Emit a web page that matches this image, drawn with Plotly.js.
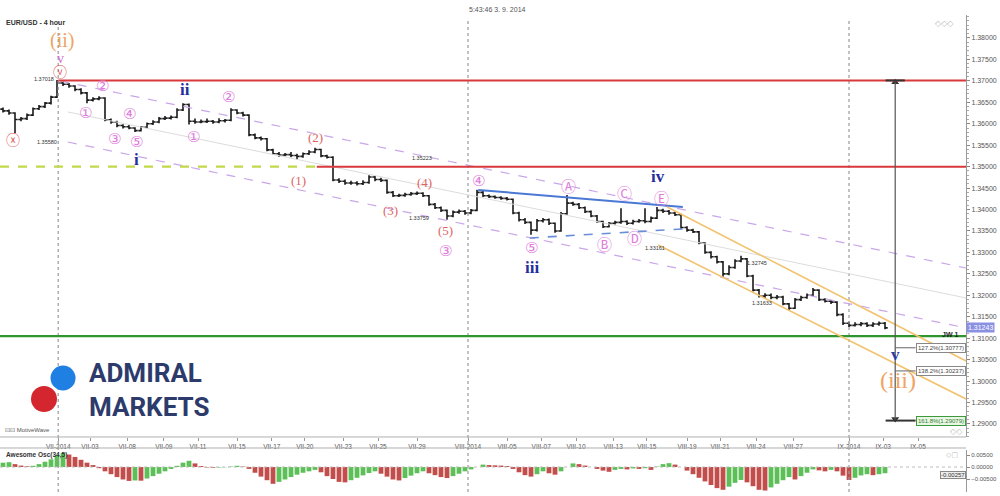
<!DOCTYPE html>
<html><head><meta charset="utf-8">
<script src="https://cdn.plot.ly/plotly-3.0.1.min.js"></script>
<style>html,body{margin:0;padding:0;background:#fff}#chart{width:1000px;height:496px}</style>
</head><body><div id="chart"></div>
<script>
// EUR/USD 4-hour bars (sampled), prices in pips above 1.3000
const openPips = [634,630,625,610,612,620,635,640,648,662,
695,692,688,680,672,655,658,660,609,604,
596,593,590,584,592,600,604,612,613,615,
632,645,606,604,605,606,604,607,608,632,
625,620,574,567,565,539,530,527,528,526,
524,530,534,540,525,522,469,466,462,462,
460,463,476,470,468,440,432,433,435,437,
438,432,412,404,398,385,394,396,392,398,
440,432,430,428,426,424,392,376,370,352,
374,376,368,350,390,415,412,404,395,385,
372,360,368,370,372,368,372,374,372,380,
398,396,392,388,358,352,348,322,300,290,
278,250,265,280,285,245,212,198,200,195,
196,180,170,190,195,200,212,190,186,184,
155,135,130,132,134,130,133,135];
const highPips = [638,633,627,616,624,638,644,651,665,702,
699,695,690,683,674,662,664,662,612,607,
599,597,592,595,603,608,616,618,619,636,
648,647,612,610,612,609,613,611,636,634,
628,622,577,570,567,542,534,532,534,530,
533,538,544,542,528,524,473,470,467,466,
468,480,478,474,470,443,437,439,441,442,
440,434,415,407,400,398,400,399,401,446,
443,435,433,431,429,426,395,380,372,378,
380,379,370,394,434,418,415,407,398,387,
374,371,374,403,375,376,378,403,384,406,
402,399,395,390,361,355,350,324,303,292,
280,270,284,292,287,248,215,205,204,201,
199,182,194,199,204,217,214,193,189,186,
158,139,137,138,137,137,139,138];
const lowPips = [626,621,578,606,609,618,632,637,645,660,
688,684,676,668,648,652,655,606,600,592,
589,587,581,582,589,597,601,609,610,613,
630,598,600,601,602,600,601,603,606,622,
617,571,564,561,536,527,523,524,522,516,
521,527,531,522,519,466,462,458,458,456,
457,460,466,464,437,429,429,430,432,434,
429,409,401,394,376,382,390,388,389,396,
429,427,425,423,421,389,372,366,341,349,
370,364,346,348,388,409,401,392,382,369,
357,358,365,367,364,365,369,368,370,378,
392,388,385,355,348,345,319,297,286,274,
243,247,262,277,242,209,195,194,191,191,
177,166,168,187,192,198,187,183,180,151,
131,126,127,128,126,126,129,121];
const closePips = [630,625,610,612,620,635,640,648,662,695,
692,688,680,672,655,658,660,609,604,596,
593,590,584,592,600,604,612,613,615,632,
645,606,604,605,606,604,607,608,632,625,
620,574,567,565,539,530,527,528,526,524,
530,534,540,525,522,469,466,462,462,460,
463,476,470,468,440,432,433,435,437,438,
432,412,404,398,385,394,396,392,398,440,
432,430,428,426,424,392,376,370,352,374,
376,368,350,390,415,412,404,395,385,372,
360,368,370,372,368,372,374,372,380,398,
396,392,388,358,352,348,322,300,290,278,
250,265,280,285,245,212,198,200,195,196,
180,170,190,195,200,212,190,186,184,155,
135,130,132,134,130,133,135,124];
// Awesome Oscillator (34,5), units of 0.0001
const aoValues = [18,20,12,6,3,5,12,22,32,48,
58,52,42,30,18,8,-5,-18,-30,-42,
-52,-58,-56,-57,-48,-38,-28,-18,-8,5,
18,26,15,4,-2,-3,-2,-1,2,5,
2,-8,-24,-40,-55,-70,-62,-52,-42,-32,
-24,-18,-12,-22,-38,-50,-62,-64,-55,-45,
-35,-25,-18,-28,-40,-52,-56,-46,-36,-26,
-18,-26,-34,-42,-46,-38,-28,-18,-10,0,
10,8,7,6,4,-8,-22,-34,-40,-30,
-18,-26,-32,-18,0,15,12,6,0,-8,
-15,-20,-12,-8,-10,-6,-8,-5,-12,2,
12,16,10,0,-15,-30,-45,-60,-75,-88,
-95,-82,-66,-54,-64,-80,-95,-98,-85,-70,
-55,-42,-52,-38,-24,-10,-14,-18,-12,-18,
-36,-54,-45,-35,-30,-34,-30,-26];
const tickLabels = ['VII-2014','VII-03','VII-08','VII-09','VII-11','VII-15','VII-17','VII-20','VII-23','VII-25','VII-29',
  'VIII-2014','VIII-05','VIII-07','VIII-10','VIII-13','VIII-15','VIII-19','VIII-21','VIII-24','VIII-27',
  'IX-2014','IX-03','IX-05'];
const tickBars = [9.2,14.5,20.7,26.8,32.5,39,44.8,50.3,56.7,62.5,69,77.5,84,89.7,95.5,101.7,107.3,114,119.5,125.5,131.7,141,146.7,152.5];
const monthStartBars = [9.2,77.5,141];
const priceTicks = [1.29,1.295,1.30,1.305,1.31,1.315,1.32,1.325,1.33,1.335,1.34,1.345,1.35,1.355,1.36,1.365,1.37,1.375,1.38];
const aoTicks = [0.005,0,-0.005];
const resistanceHigh = 1.3701, resistanceMid = 1.3500, supportLevel = 1.3105;
const waveTopBar = 9.2, breakBar = 52.3;
const upperChannel = [[9.5,1.36997],[160.5,1.32637]];
const midChannel = [[10.8,1.36275],[160.5,1.31938]];
const lowerChannel = [[10.8,1.35575],[160.5,1.31239]];
const triangleTop = [[79.2,1.34456],[113.3,1.34060]];
const triangleBottom = [[87.8,1.33337],[113.3,1.33547]];
const orangeUpper = [[110.7,1.34060],[160.5,1.30469]];
const orangeLower = [[109.2,1.33174],[160.5,1.29583]];
const fibBar = 148.7;
const fibLevels = [1.30777,1.30237,1.29079];
const fibLabels = ['127.2%(1.30777)','138.2%(1.30237)','161.8%(1.29079)'];
const lastPrice = 1.31243;
const lastAO = -0.00257;

const toPrice = p => 1.3 + p/10000;
const bars = closePips.map((_,k)=>k);
const aoY = aoValues.map(v=>v/10000);
const aoColors = aoValues.map((v,k)=> (k===0 || v>=aoValues[k-1]) ? '#5cbf58' : '#c24e4c');

const traces = [
  {type:'ohlc', x:bars, open:openPips.map(toPrice), high:highPips.map(toPrice), low:lowPips.map(toPrice), close:closePips.map(toPrice),
   increasing:{line:{color:'#1a1a1a',width:1.6}}, decreasing:{line:{color:'#1a1a1a',width:1.6}}, tickwidth:0.45,
   xaxis:'x', yaxis:'y', hoverinfo:'skip', showlegend:false},
  {type:'bar', x:bars, y:aoY, marker:{color:aoColors, line:{width:0}}, width:0.8, xaxis:'x2', yaxis:'y2', hoverinfo:'skip', showlegend:false},
  {type:'scatter', mode:'markers', x:[fibBar, fibBar], y:[resistanceHigh-0.0004, fibLevels[2]+0.0004],
   marker:{symbol:['triangle-up','triangle-down'], size:7, color:'#333'}, xaxis:'x', yaxis:'y', hoverinfo:'skip', showlegend:false}
];

const seg = (pts, color, width, dash) => ({type:'line', xref:'x', yref:'y', x0:pts[0][0], y0:pts[0][1], x1:pts[1][0], y1:pts[1][1], line:{color, width, dash:dash||'solid'}});
const shapes = [];
monthStartBars.forEach(b => shapes.push({type:'line', xref:'x', yref:'paper', x0:b, x1:b, y0:0.008, y1:0.962, line:{color:'#9a9a9a', width:1.2, dash:'dot'}}));
shapes.push(seg(midChannel,'#dcdcdc',1));
shapes.push(seg(upperChannel,'#c9a6ea',1.2,'dash'));
shapes.push(seg(lowerChannel,'#c9a6ea',1.2,'dash'));
shapes.push({type:'line', xref:'x', yref:'y', x0:waveTopBar, x1:160.5, y0:resistanceHigh, y1:resistanceHigh, line:{color:'#d9393b', width:2}});
shapes.push({type:'line', xref:'x', yref:'y', x0:breakBar, x1:160.5, y0:resistanceMid, y1:resistanceMid, line:{color:'#d9393b', width:2}});
shapes.push({type:'line', xref:'x', yref:'y', x0:-0.5, x1:breakBar, y0:resistanceMid, y1:resistanceMid, line:{color:'#c3d84a', width:2.2, dash:'dash'}});
shapes.push({type:'line', xref:'x', yref:'y', x0:-0.5, x1:160.5, y0:supportLevel, y1:supportLevel, line:{color:'#2f962f', width:2.2}});
shapes.push(seg(triangleTop,'#4a78d4',2));
shapes.push(seg(triangleBottom,'#6a8fd8',1.6,'dash'));
shapes.push(seg(orangeUpper,'#f2c36e',1.6));
shapes.push(seg(orangeLower,'#f2c36e',1.6));
shapes.push({type:'line', xref:'x', yref:'y', x0:fibBar, x1:fibBar, y0:resistanceHigh, y1:fibLevels[2], line:{color:'#555', width:1.2}});
shapes.push({type:'line', xref:'x', yref:'y', x0:fibBar-1.6, x1:fibBar+1.6, y0:resistanceHigh, y1:resistanceHigh, line:{color:'#333', width:2}});
shapes.push({type:'line', xref:'x', yref:'y', x0:fibBar-1.6, x1:fibBar+3.4, y0:fibLevels[2], y1:fibLevels[2], line:{color:'#333', width:2}});
shapes.push({type:'line', xref:'x', yref:'y', x0:fibBar, x1:fibBar+3.4, y0:fibLevels[0], y1:fibLevels[0], line:{color:'#666', width:1}});
shapes.push({type:'line', xref:'x', yref:'y', x0:fibBar, x1:fibBar+3.4, y0:fibLevels[1], y1:fibLevels[1], line:{color:'#666', width:1}});
shapes.push({type:'line', xref:'paper', yref:'paper', x0:0, x1:1, y0:0.1190, y1:0.1190, line:{color:'#b0b0b0', width:1}});
shapes.push({type:'line', xref:'paper', yref:'paper', x0:0, x1:1, y0:0.0968, y1:0.0968, line:{color:'#b0b0b0', width:1}});
shapes.push({type:'line', xref:'paper', yref:'y2', x0:0, x1:1, y0:0, y1:0, line:{color:'#bdbdbd', width:1, dash:'dot'}});
shapes.push({type:'circle', xref:'paper', yref:'paper', x0:0.0523, x1:0.0782, y0:0.2127, y1:0.2631, fillcolor:'#1f7fe3', line:{width:0}});
shapes.push({type:'circle', xref:'paper', yref:'paper', x0:0.0321, x1:0.0590, y0:0.1694, y1:0.2218, fillcolor:'#d4262e', line:{width:0}});

const circFam = 'DejaVu Sans, Noto Sans CJK JP';
const pink = {family:circFam, size:15, color:'#e07ddc'};
const salmon = {family:'Liberation Serif', size:13, color:'#e06464'};
const navy = {family:'Liberation Serif', size:17, color:'#25309c'};
const orange = {family:'Liberation Serif', size:20, color:'#f0a463'};
const tiny = {family:'Liberation Sans', size:5.5, color:'#333'};
const lab = (text, x, y, font, yanchor) => ({text, x, y, xref:'x', yref:'y', showarrow:false, font, yanchor:yanchor||'middle'});
const waveLabels = [
  lab('(ii)', 9.8, 1.3793, orange),
  lab('v', 9.5, 1.3752, {family:'Liberation Serif', size:14, color:'#d46fd0'}),
  lab('ⓥ', 9.5, 1.3721, {family:circFam, size:14, color:'#e06060'}),
  lab('ⓧ', 1.7, 1.3562, {family:circFam, size:14, color:'#e06060'}),
  lab('1.37018', 6.8, 1.3705, tiny),
  lab('②', 16.5, 1.3688, pink), lab('①', 13.7, 1.3625, pink), lab('③', 18.5, 1.3565, pink),
  lab('④', 21, 1.3623, pink), lab('⑤', 22.2, 1.3558, pink),
  lab('<b>ii</b>', 30.3, 1.3679, navy), lab('①', 31.7, 1.3569, pink), lab('②', 37.5, 1.3662, pink),
  lab('1.35580', 7.3, 1.3558, tiny), lab('<b>i</b>', 22.2, 1.3516, navy),
  lab('(1)', 49.2, 1.3467, salmon), lab('(2)', 52, 1.3567, salmon), lab('1.35223', 69.8, 1.3520, tiny),
  lab('(3)', 64.5, 1.3397, salmon), lab('(4)', 70.2, 1.3462, salmon), lab('(5)', 73.7, 1.3328, salmon, 'bottom'),
  lab('③', 73.7, 1.3328, pink, 'top'), lab('1.33759', 69.3, 1.3380, tiny),
  lab('④', 79.2, 1.3467, pink), lab('⑤', 88, 1.3310, pink), lab('<b>iii</b>', 88.2, 1.3264, navy),
  lab('Ⓐ', 94.2, 1.3453, pink), lab('Ⓑ', 100.2, 1.3317, pink), lab('Ⓒ', 103.5, 1.3436, pink),
  lab('Ⓓ', 105.3, 1.3331, pink), lab('Ⓔ', 109.7, 1.3450, pink, 'top'), lab('<b>iv</b>', 109.2, 1.3450, navy, 'bottom'),
  lab('1.33161', 108.6, 1.3311, tiny), lab('1.32745', 125.7, 1.3275, tiny), lab('1.31633', 126.5, 1.3182, tiny),
  lab('<b>v</b>', fibBar, 1.3061, {family:'Liberation Serif', size:17, color:'#2a3aa8'}),
  lab('(iii)', 149.2, 1.3002, {family:'Liberation Serif', size:24, color:'#f0a463'}),
  {text:'<b>JW 1</b>', x:157.8, y:supportLevel+0.0003, xref:'x', yref:'y', showarrow:false, font:{family:'Liberation Sans', size:7, color:'#222'}}
];
fibLabels.forEach((t,k) => waveLabels.push({text:t, x:fibBar+3.5, y:fibLevels[k], xref:'x', yref:'y', xanchor:'left', showarrow:false,
  font:{family:'Liberation Sans', size:6, color: k===2 ? '#2f7f2f' : '#444'}, bgcolor: k===2 ? '#e9f6e4' : '#fff',
  bordercolor: k===2 ? '#3c9a3c' : '#888', borderwidth:1, borderpad:1}));
const paperText = (text, x, y, font, xanchor, yanchor) => ({text, x, y, xref:'paper', yref:'paper', xanchor:xanchor||'left', yanchor:yanchor||'middle', showarrow:false, font});
const annotations = waveLabels.concat([
  paperText('5:43:46 3. 9. 2014', 0.5145, 0.980, {family:'Liberation Sans', size:7, color:'#555'}, 'center'),
  paperText('<b>EUR/USD - 4 hour</b>', 0.004, 0.954, {family:'Liberation Sans', size:7, color:'#333'}),
  paperText('◇◇◇', 0.978, 0.952, {family:'DejaVu Sans', size:8, color:'#bbb'}, 'center'),
  paperText('◇◇', 0.990, 0.131, {family:'DejaVu Sans', size:8, color:'#bbb'}, 'center'),
  paperText('◇□', 0.985, 0.083, {family:'DejaVu Sans', size:7, color:'#bbb'}, 'center'),
  paperText('⊡⊡ MotiveWave', 0.003, 0.133, {family:'Liberation Sans', size:6, color:'#555'}),
  paperText('<b>Awesome Osc(34,5)</b>', 0.004, 0.083, {family:'Liberation Sans', size:6.5, color:'#333'}),
  paperText('<b>ADMIRAL</b>', 0.0905, 0.2137, {family:'Roboto', size:26, color:'#2c3b6c'}, 'left', 'bottom'),
  paperText('<b>MARKETS</b>', 0.0905, 0.2137, {family:'Roboto', size:26, color:'#2c3b6c'}, 'left', 'top'),
  {text:lastPrice.toFixed(5), x:1, y:lastPrice, xref:'paper', yref:'y', xanchor:'left', showarrow:false,
   font:{family:'Liberation Sans', size:7, color:'#fff'}, bgcolor:'#8a90e2', borderpad:1},
  {text:lastAO.toFixed(5), x:1, y:-0.0034, xref:'paper', yref:'y2', xanchor:'right', showarrow:false,
   font:{family:'Liberation Sans', size:6, color:'#333'}, bgcolor:'#eeeeee', bordercolor:'#888', borderwidth:1, borderpad:0}
]);

const layout = {
  width:1000, height:496, margin:{l:0, r:34, t:0, b:0}, paper_bgcolor:'#fff', plot_bgcolor:'#fff', showlegend:false,
  xaxis:{domain:[0,1], range:[-0.5,160.5], anchor:'y', tickvals:tickBars, ticktext:tickLabels, ticks:'outside', ticklen:3, tickcolor:'#999',
    tickfont:{family:'Liberation Sans', size:6.5, color:'#555'}, showgrid:false, zeroline:false, showline:false, rangeslider:{visible:false}, fixedrange:true},
  xaxis2:{domain:[0,1], matches:'x', anchor:'y2', showticklabels:false, ticks:'', showgrid:false, zeroline:false, showline:false},
  yaxis:{domain:[0.1190,0.9698], range:[1.28697,1.38536], side:'right', anchor:'x', tickvals:priceTicks, tickformat:'.5f', ticks:'outside', ticklen:3,
    tickcolor:'#888', showline:true, linecolor:'#999', tickfont:{family:'Liberation Sans', size:7, color:'#555'}, showgrid:false, zeroline:false,
    minor:{dtick:0.001, ticklen:2, tickcolor:'#aaa', ticks:'outside'}},
  yaxis2:{domain:[0.00806,0.0927], range:[-0.01042,0.00708], side:'right', anchor:'x2', tickvals:aoTicks, tickformat:'.5f', ticks:'outside', ticklen:3,
    tickcolor:'#888', showline:true, linecolor:'#999', tickfont:{family:'Liberation Sans', size:6, color:'#555'}, showgrid:false, zeroline:false},
  bargap:0.25, shapes, annotations
};
Plotly.newPlot('chart', traces, layout, {staticPlot:true, displayModeBar:false});
</script></body></html>
